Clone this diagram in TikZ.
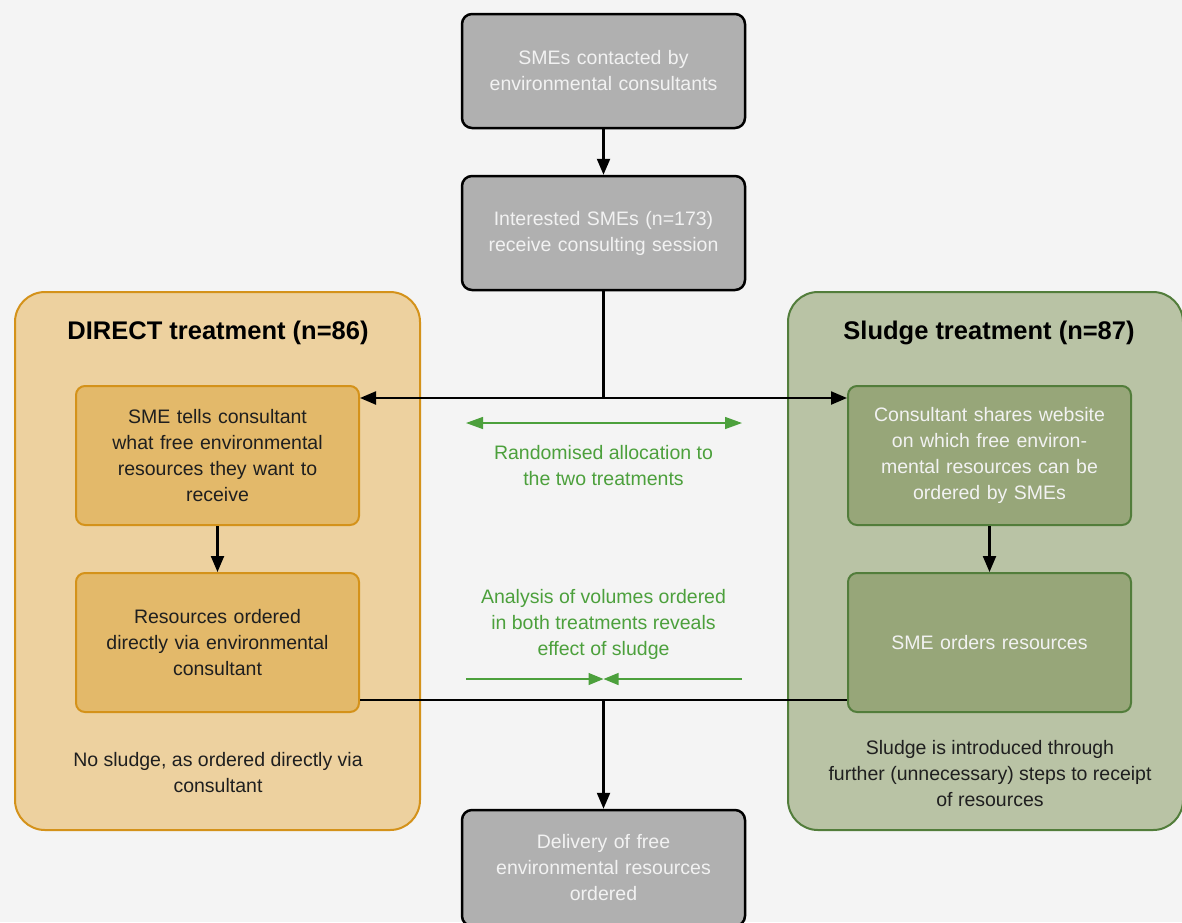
\documentclass[tikz,border=0pt]{standalone}
\usepackage{fontspec}
\setmainfont{Liberation Sans}
\usetikzlibrary{arrows.meta,positioning}
\definecolor{bg}{HTML}{F4F4F4}
\definecolor{grayfill}{HTML}{B0B0B0}
\definecolor{graytext}{HTML}{F2F2F2}
\definecolor{ofill}{HTML}{EDD19F}
\definecolor{oline}{HTML}{D4921A}
\definecolor{oinner}{HTML}{E3B96A}
\definecolor{gfill}{HTML}{B9C3A5}
\definecolor{gline}{HTML}{527D3B}
\definecolor{ginner}{HTML}{97A679}
\definecolor{gtext}{HTML}{4CA03C}
\tikzset{
  x=1pt,y=-1pt,
  base/.style={align=center,font=\fontsize{19.5}{26}\selectfont,inner sep=0pt},
  graybox/.style={base,draw=black,line width=2.5pt,fill=grayfill,rounded corners=10pt,
    minimum width=283pt,minimum height=114pt,text width=275pt,text=graytext},
  ogroup/.style={draw=oline,fill=ofill,line width=2pt,rounded corners=30pt,minimum width=405pt,minimum height=538pt},
  ggroup/.style={draw=gline,fill=gfill,line width=2pt,rounded corners=30pt,minimum width=395pt,minimum height=538pt},
  obox/.style={base,draw=oline,fill=oinner,line width=2pt,rounded corners=9pt,minimum width=283pt,minimum height=139pt,text width=275pt,text=black!88},
  gbox/.style={base,draw=gline,fill=ginner,line width=2pt,rounded corners=9pt,minimum width=283pt,minimum height=139pt,text width=275pt,text=graytext},
  title/.style={inner sep=0pt,font=\fontsize{25.5}{26}\selectfont\bfseries,text=black},
  note/.style={base,text=black!88},
  gnote/.style={base,text=gtext},
  flow/.style={line width=2.2pt,draw=black},
  flowarrow/.style={flow,-{Triangle[length=16pt,width=13pt]}},
  garrow/.style={draw=gtext,line width=1.3pt},
}
\begin{document}
\begin{tikzpicture}
\useasboundingbox[fill=bg] (0,0) rectangle (1182,922);
% groups
\node[ogroup] (dgroup) at (217.5,561) {};
\node[ggroup] (sgroup) at (985.5,561) {};
\node[title] (dtitle) at (218,333) {DIRECT treatment (n=86)};
\node[title] (stitle) at (989,333) {Sludge treatment (n=87)};
% gray boxes
\node[graybox] (contact) at (603.5,71) {SMEs contacted by\\environmental consultants};
\node[graybox] (session) at (603.5,233) {Interested SMEs (n=173)\\receive consulting session};
\node[graybox,minimum height=116pt] (deliv) at (603.5,868) {Delivery of free\\environmental resources\\ordered};
% inner boxes
\node[obox] (d1) at (217.5,455.5) {SME tells consultant\\what free environmental\\resources they want to\\receive};
\node[obox] (d2) at (217.5,642.5) {Resources ordered\\directly via environmental\\consultant};
\node[gbox] (s1) at (989.5,455.5) {Consultant shares website\\on which free environ-\\mental resources can be\\ordered by SMEs};
\node[gbox] (s2) at (989.5,642.5) {SME orders resources};
% notes
\node[note] (dnote) at (218,773) {No sludge, as ordered directly via\\consultant};
\node[note] (snote) at (990,774) {Sludge is introduced through\\further (unnecessary) steps to receipt\\of resources};
\node[gnote] (rand) at (603.5,465.5) {Randomised allocation to\\the two treatments};
\node[gnote] (anal) at (603.5,624) {Analysis of volumes ordered\\in both treatments reveals\\effect of sludge};
% connectors
\draw[flowarrow] (contact) -- (session);
\coordinate (split) at (603.5,398);
\draw[flow] (session.south) -- (split);
\draw[flowarrow] (split) -- (split -| d1.east);
\draw[flowarrow] (split) -- (split -| s1.west);
\draw[flowarrow] (d1) -- (d2);
\draw[flowarrow] (s1) -- (s2);
\coordinate (merge) at (603.5,700);
\draw[flow] (merge -| d2.east) -- (merge -| s2.west);
\draw[flowarrow] (merge) -- (deliv.north);
% green arrows
\coordinate (gl1) at (466,423);
\coordinate (gr1) at (742,423);
\draw[garrow,{Triangle[length=17pt,width=12pt]}-{Triangle[length=17pt,width=12pt]}] (gl1) -- (gr1);
\coordinate (gl2) at (466,679);
\coordinate (gm2) at (603.5,679);
\coordinate (gr2) at (742,679);
\draw[garrow,-{Triangle[length=15pt,width=12pt]}] (gl2) -- (gm2);
\draw[garrow,-{Triangle[length=15pt,width=12pt]}] (gr2) -- (gm2);
\end{tikzpicture}
\end{document}
